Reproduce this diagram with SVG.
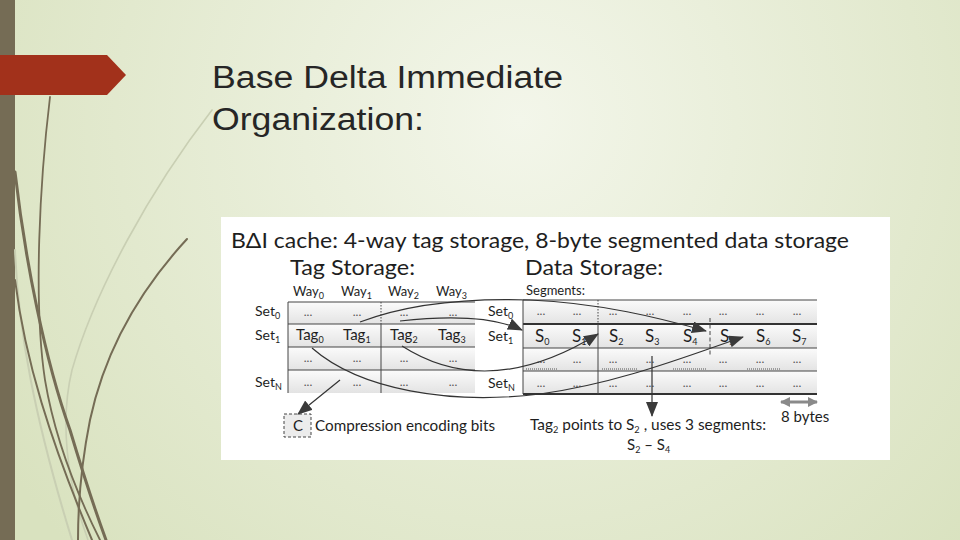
<svg xmlns="http://www.w3.org/2000/svg" width="960" height="540" viewBox="0 0 960 540">
<defs>
<radialGradient id="bg" cx="520" cy="120" r="620" gradientUnits="userSpaceOnUse">
<stop offset="0" stop-color="#f3f6ea"/>
<stop offset="1" stop-color="#d9e2bf"/>
</radialGradient>
<linearGradient id="row" x1="0" y1="0" x2="0" y2="1">
<stop offset="0" stop-color="#fbfbfb"/>
<stop offset="1" stop-color="#e3e3e3"/>
</linearGradient>
<marker id="ah" markerUnits="userSpaceOnUse" markerWidth="15" markerHeight="12" refX="14" refY="6" orient="auto">
<path d="M0,0 L15,6 L0,12 z" fill="#3a3a3a"/>
</marker>
<marker id="gh" markerUnits="userSpaceOnUse" markerWidth="10" markerHeight="10" refX="9" refY="5" orient="auto-start-reverse">
<path d="M0,0 L10,5 L0,10 z" fill="#8a8a8a"/>
</marker>
<style>
.t{font-family:Lato,"Liberation Sans",sans-serif;fill:#1e1e1e}
.ttl{font-family:"Liberation Sans",Arial,sans-serif;fill:#262626;font-size:31px}
.h{font-size:22px}
.s{font-size:14px}
.d{font-size:12px;fill:#555;text-anchor:middle}
.sub{font-size:9px}
.ln{stroke:#444;stroke-width:1;fill:none}
.thick{stroke:#333;stroke-width:2.2;fill:none}
.cv{stroke:#333;stroke-width:1.2;fill:none;marker-end:url(#ah)}
.deco{fill:none;stroke:#756c55;stroke-linecap:round}
.decol{fill:none;stroke:#c9cfb3;stroke-linecap:round}
</style>
</defs>
<rect width="960" height="540" fill="url(#bg)"/>
<g id="decor">
<rect x="0" y="0" width="15" height="540" fill="#756c55"/>
<path class="decol" stroke-width="1.6" d="M212,110 C150,190 95,290 72,370 C60,420 66,480 88,540"/>
<path class="decol" stroke-width="2" d="M15,250 C18,330 35,420 72,540"/>
<path class="deco" stroke-width="1.8" d="M50,97 C40,180 33,300 45,380 C55,440 80,500 100,540"/>
<path class="deco" stroke-width="3" d="M15,172 C25,260 45,360 70,430 C82,470 95,510 106,540"/>
<path class="deco" stroke-width="2" d="M187,239 C140,290 105,350 90,420 C82,460 78,500 78,540"/>
<path class="deco" stroke-width="2" d="M15,280 C25,360 50,440 92,540"/>
<polygon points="0,55 107,55 126,75 107,95 0,95" fill="#a2311b"/>
</g>
<g id="title">
<text class="ttl" x="212" y="88" textLength="351" lengthAdjust="spacingAndGlyphs">Base Delta Immediate</text>
<text class="ttl" x="212" y="130" textLength="212" lengthAdjust="spacingAndGlyphs">Organization:</text>
</g>
<rect x="221" y="217" width="669" height="243" fill="#ffffff"/>
<g id="headings">
<text class="t h" x="231" y="248" textLength="618" lengthAdjust="spacingAndGlyphs">BΔI cache: 4-way tag storage, 8-byte segmented data storage</text>
<text class="t h" x="290" y="275" textLength="125" lengthAdjust="spacingAndGlyphs">Tag Storage:</text>
<text class="t h" x="525" y="275" textLength="138" lengthAdjust="spacingAndGlyphs">Data Storage:</text>
</g>
<g id="tag-storage">
<text class="t" x="293" y="296" font-size="13">Way<tspan class="sub" dy="3">0</tspan></text>
<text class="t" x="341" y="296" font-size="13">Way<tspan class="sub" dy="3">1</tspan></text>
<text class="t" x="388" y="296" font-size="13">Way<tspan class="sub" dy="3">2</tspan></text>
<text class="t" x="436" y="296" font-size="13">Way<tspan class="sub" dy="3">3</tspan></text>
<rect x="288" y="302" width="187" height="22" fill="url(#row)"/>
<rect x="288" y="324" width="187" height="23" fill="url(#row)"/>
<rect x="288" y="347" width="187" height="23" fill="url(#row)"/>
<rect x="288" y="370" width="187" height="23" fill="url(#row)"/>
<line class="ln" x1="288" y1="302" x2="475" y2="302"/>
<line class="ln" x1="288" y1="324" x2="475" y2="324" stroke-width="1.4"/>
<line class="ln" x1="288" y1="347" x2="475" y2="347" stroke="#777"/>
<line class="ln" x1="288" y1="370" x2="475" y2="370"/>
<line class="ln" x1="288" y1="302" x2="288" y2="393"/>
<line class="ln" x1="381" y1="302" x2="381" y2="324" stroke-dasharray="1.5,1.5"/>
<line class="ln" x1="381" y1="324" x2="381" y2="393"/>
<text class="t s" x="255" y="316">Set<tspan class="sub" dy="3">0</tspan></text>
<text class="t s" x="255" y="340">Set<tspan class="sub" dy="3">1</tspan></text>
<text class="t s" x="255" y="387">Set<tspan class="sub" dy="3">N</tspan></text>
<text class="t d" x="308" y="316">...</text><text class="t d" x="357" y="316">...</text><text class="t d" x="404" y="316">...</text><text class="t d" x="453" y="316">...</text>
<text class="t" x="296" y="340" font-size="15">Tag<tspan class="sub" dy="3">0</tspan></text>
<text class="t" x="343" y="340" font-size="15">Tag<tspan class="sub" dy="3">1</tspan></text>
<text class="t" x="390" y="340" font-size="15">Tag<tspan class="sub" dy="3">2</tspan></text>
<text class="t" x="438" y="340" font-size="15">Tag<tspan class="sub" dy="3">3</tspan></text>
<text class="t d" x="308" y="362">...</text><text class="t d" x="357" y="362">...</text><text class="t d" x="404" y="362">...</text><text class="t d" x="453" y="362">...</text>
<text class="t d" x="308" y="386">...</text><text class="t d" x="357" y="386">...</text><text class="t d" x="404" y="386">...</text><text class="t d" x="453" y="386">...</text>
</g>
<g id="set-labels">
<text class="t s" x="488" y="316">Set<tspan class="sub" dy="3">0</tspan></text>
<text class="t s" x="488" y="341">Set<tspan class="sub" dy="3">1</tspan></text>
<text class="t s" x="488" y="388">Set<tspan class="sub" dy="3">N</tspan></text>
</g>
<g id="data-storage">
<text class="t" x="526" y="295" font-size="13">Segments:</text>
<rect x="523" y="300" width="294" height="24" fill="url(#row)"/>
<rect x="523" y="324" width="294" height="24" fill="url(#row)"/>
<rect x="523" y="348" width="294" height="23" fill="url(#row)"/>
<rect x="523" y="371" width="294" height="23" fill="url(#row)"/>
<line class="ln" x1="523" y1="300" x2="817" y2="300"/>
<line class="thick" x1="523" y1="324" x2="817" y2="324"/>
<line class="ln" x1="523" y1="348" x2="817" y2="348" stroke="#bbb"/>
<line class="ln" x1="523" y1="371" x2="817" y2="371"/>
<line class="thick" x1="523" y1="394" x2="817" y2="394"/>
<line class="ln" x1="523" y1="300" x2="523" y2="394" stroke-width="1.5"/>
<line class="ln" x1="598" y1="300" x2="598" y2="324" stroke-dasharray="1.5,1.5"/>
<line class="ln" x1="598" y1="324" x2="598" y2="394"/>
<line class="ln" x1="710" y1="318" x2="710" y2="357" stroke-dasharray="4,2.5"/>
<g stroke="#555" stroke-width="1" stroke-dasharray="1,1">
<line x1="526" y1="369" x2="557" y2="369"/>
<line x1="602" y1="369" x2="638" y2="369"/>
<line x1="673" y1="369" x2="707" y2="369"/>
<line x1="747" y1="369" x2="780" y2="369"/>
</g>
<g>
<text class="t d" x="541" y="315">...</text><text class="t d" x="577" y="315">...</text><text class="t d" x="613" y="315">...</text><text class="t d" x="650" y="315">...</text><text class="t d" x="687" y="315">...</text><text class="t d" x="723" y="315">...</text><text class="t d" x="760" y="315">...</text><text class="t d" x="797" y="315">...</text>
<text class="t d" x="541" y="363">...</text><text class="t d" x="577" y="363">...</text><text class="t d" x="613" y="363">...</text><text class="t d" x="650" y="363">...</text><text class="t d" x="687" y="363">...</text><text class="t d" x="723" y="363">...</text><text class="t d" x="760" y="363">...</text><text class="t d" x="797" y="363">...</text>
<text class="t d" x="541" y="387">...</text><text class="t d" x="577" y="387">...</text><text class="t d" x="613" y="387">...</text><text class="t d" x="650" y="387">...</text><text class="t d" x="687" y="387">...</text><text class="t d" x="723" y="387">...</text><text class="t d" x="760" y="387">...</text><text class="t d" x="797" y="387">...</text>
</g>
<text class="t" x="535" y="342" font-size="17">S<tspan class="sub" dy="3">0</tspan></text>
<text class="t" x="572" y="342" font-size="17">S<tspan class="sub" dy="3">1</tspan></text>
<text class="t" x="609" y="342" font-size="17">S<tspan class="sub" dy="3">2</tspan></text>
<text class="t" x="645" y="342" font-size="17">S<tspan class="sub" dy="3">3</tspan></text>
<text class="t" x="683" y="342" font-size="17">S<tspan class="sub" dy="3">4</tspan></text>
<text class="t" x="720" y="342" font-size="17">S<tspan class="sub" dy="3">5</tspan></text>
<text class="t" x="756" y="342" font-size="17">S<tspan class="sub" dy="3">6</tspan></text>
<text class="t" x="792" y="342" font-size="17">S<tspan class="sub" dy="3">7</tspan></text>
</g>
<g id="legend">
<rect x="284" y="414" width="27" height="23" fill="#ececec" stroke="#444" stroke-width="1" stroke-dasharray="3,2"/>
<text class="t" x="293" y="431" font-size="15">C</text>
<text class="t" x="315" y="431" font-size="15" textLength="180" lengthAdjust="spacingAndGlyphs">Compression encoding bits</text>
<text class="t" x="530" y="430" font-size="15" textLength="236" lengthAdjust="spacingAndGlyphs">Tag<tspan class="sub" font-size="10" dy="3">2</tspan><tspan dy="-3"> points to S</tspan><tspan class="sub" font-size="10" dy="3">2</tspan><tspan dy="-3"> , uses 3 segments:</tspan></text>
<text class="t" x="627" y="450" font-size="15">S<tspan class="sub" font-size="10" dy="3">2</tspan><tspan dy="-3"> – S</tspan><tspan class="sub" font-size="10" dy="3">4</tspan></text>
<text class="t" x="781" y="422" font-size="15">8 bytes</text>
</g>
<g id="connectors">
<path class="cv" d="M360,322 C410,303 470,298 530,300 C600,303 660,318 706,331"/>
<path class="cv" d="M400,321 C445,316 492,316 522,330"/>
<path class="cv" d="M402,346 C455,380 520,382 598,334"/>
<path class="cv" d="M312,348 C360,390 450,405 540,394 C620,383 690,355 743,337"/>
<path class="cv" d="M340,380 L298,414"/>
<path class="cv" d="M652,356 L652,416"/>
<line x1="781" y1="402" x2="817" y2="402" stroke="#8a8a8a" stroke-width="3" marker-start="url(#gh)" marker-end="url(#gh)"/>
</g>
</svg>
